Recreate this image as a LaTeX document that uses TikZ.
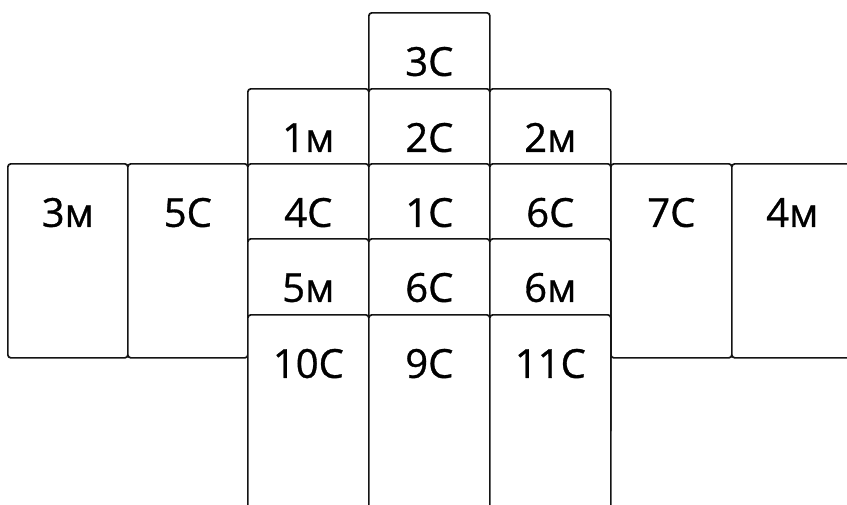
\documentclass[tikz,border=0pt]{standalone}
\usepackage{fontspec}
\usepackage{tikz}
\usetikzlibrary{positioning}
\newfontfamily\cardfont{Open Sans}[FakeBold=0.8]
\definecolor{carddark}{RGB}{20,20,20}
\tikzset{
  card/.style={rectangle, draw=carddark, fill=white, line width=1.7pt,
    rounded corners=3pt, anchor=north west, inner sep=0pt,
    minimum width=121pt, text height=63pt, text depth=131pt,
    font=\cardfont\fontsize{40}{40}\selectfont, text=black}
}

\begin{document}
\begin{tikzpicture}[x=1pt, y=-1pt]
  \useasboundingbox (0,0) rectangle (847,504);
  \clip (0,0) rectangle (847,504);
  % top card
  \node[card] (c3) at (368,12) {3С};
  % second row
  \node[card] (m1) at (247,88) {1м};
  \node[card] (c2) at (368,88) {2С};
  \node[card] (m2) at (489,88) {2м};
  % side cards
  \node[card, minimum width=120pt] (m3) at (7,163) {3м};
  \node[card, minimum width=120pt] (c5) at (127,163) {5С};
  \node[card, minimum width=121pt] (c7) at (610,163) {7С};
  \node[card, minimum width=121pt] (m4) at (731,163) {4м};
  % middle row
  \node[card] (c4) at (247,163) {4С};
  \node[card] (c1) at (368,163) {1С};
  \node[card] (c6a) at (489,163) {6С};
  % fourth row
  \node[card] (m5) at (247,238) {5м};
  \node[card] (c6b) at (368,238) {6С};
  \node[card] (m6) at (489,238) {6м};
  % bottom row
  \node[card] (c10) at (247,314) {10С};
  \node[card] (c9) at (368,314) {9С};
  \node[card] (c11) at (489,314) {11С};
\end{tikzpicture}
\end{document}
